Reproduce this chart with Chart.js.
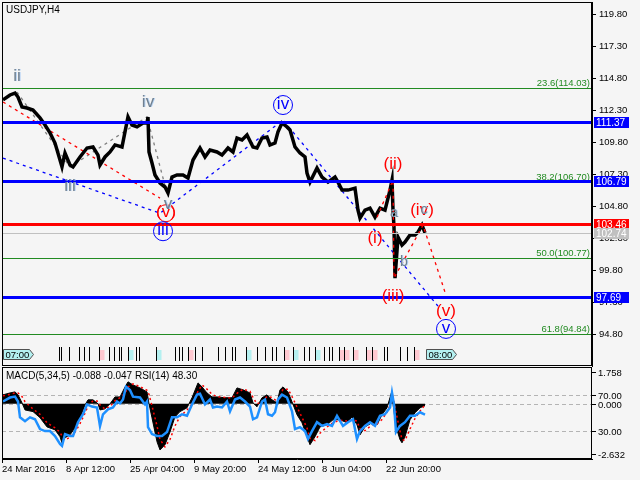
<!DOCTYPE html>
<html><head><meta charset="utf-8">
<script src="https://cdn.jsdelivr.net/npm/chart.js@4.4.0/dist/chart.umd.min.js"></script>
<style>
html,body{margin:0;padding:0;background:#F5F5F5;}
#wrap{position:relative;width:640px;height:480px;overflow:hidden;background:#F5F5F5;}
#c1{position:absolute;left:0;top:0;}
#c2{position:absolute;left:0;top:366px;}
</style></head>
<body><div id="wrap"><canvas id="c1" width="640" height="368"></canvas><canvas id="c2" width="640" height="114"></canvas></div>
<script>
const FONT = "'Liberation Sans', Arial, sans-serif";

// ---- time axis ----
const tickBars = [0, 64, 128, 192, 256, 320, 384];
const tickLabels = ['24 Mar 2016', '8 Apr 12:00', '25 Apr 04:00', '9 May 20:00', '24 May 12:00', '8 Jun 04:00', '22 Jun 20:00'];

// ---- price (H4 closes, sampled) ----
const priceBars = [1,8,13,16,20,25,31,38,43,48, 53,58,60,63,68,71,78,85,91,96, 98,103,108,113,120,123,126,130,135,141,
  145,146,147,150,153,158,163,166,170,175, 181,186,191,198,203,208,215,220,226,231, 235,240,245,251,255,260,265,268,273,276,
  280,285,288,293,298,303,305,308,315,320, 326,333,336,340,346,353,356,358,363,368, 373,378,383,388,390,391,392,393,396,400,
  403,408,413,416,420,423];
const priceValues = [113.13,113.52,113.67,113.36,112.58,112.50,112.34,111.72,111.17,110.55, 109.76,108.43,107.89,108.98,108.04,107.89,108.67,109.37,109.45,108.82,
  108.04,108.67,109.06,109.61,109.45,110.63,111.80,111.17,111.02,111.33, 111.33,111.80,109.06,108.20,107.26,106.63,106.32,105.85,107.10,107.26,
  107.26,107.02,108.43,109.37,108.67,109.21,109.06,108.82,109.37,109.06, 110.15,110.00,110.39,109.45,109.37,110.15,110.23,109.61,109.76,110.63,
  111.33,111.02,110.78,109.45,108.98,108.67,107.41,106.70,107.80,107.10, 106.70,107.10,106.70,106.08,106.08,106.23,104.51,103.89,104.51,104.67,
  103.96,104.67,104.51,106.08,106.86,104.51,103.18,99.19,102.40,101.78, 102.01,102.56,102.56,102.79,103.34,102.74];

const priceTicks = [94.80, 97.30, 99.80, 102.30, 104.80, 107.30, 109.80, 112.30, 114.80, 117.30, 119.80];
const priceMin = 92.32, priceMax = 120.79;

// ---- levels ----
const fibPct = ['23.6', '38.2', '50.0', '61.8'];
const fibLevels = [114.03, 106.70, 100.77, 94.84];
const blueLevels = [111.37, 106.79, 97.69];
const redLevel = 103.46;
const lastPrice = 102.74;

// ---- wave lines (bar, price) ----
const bigRedBars = [1, 158];          const bigRedPrices = [112.97, 105.45];
const grayWaveBars = [15, 68, 145, 166]; const grayWavePrices = [113.75, 107.89, 111.80, 105.54];
const blueWaveBars = [1, 158, 281, 436]; const blueWavePrices = [108.58, 104.27, 111.55, 97.00];
const minorRedBars = [375, 391, 392, 421, 443]; const minorRedPrices = [103.96, 106.86, 99.19, 103.34, 98.10];

// ---- wave labels ----
const waveLabels = [
  {t:'ii', bar:15, p:115.00, c:'g'}, {t:'iii', bar:68, p:106.39, c:'g'}, {t:'iv', bar:146, p:112.97, c:'g'},
  {t:'(v)', bar:164, p:104.35, c:'r', circle:true}, {t:'v', bar:166, p:104.95, c:'g'},
  {t:'iii', bar:161, p:102.94, c:'b', circle:true}, {t:'iv', bar:281, p:112.81, c:'b', circle:true}, {t:'v', bar:444, p:95.30, c:'b', circle:true},
  {t:'(i)', bar:373, p:102.33, c:'r'}, {t:'(ii)', bar:391, p:108.10, c:'r'}, {t:'(iii)', bar:391, p:97.79, c:'r'},
  {t:'(iv)', bar:420, p:104.53, c:'r'}, {t:'(v)', bar:444, p:96.60, c:'r'},
  {t:'a', bar:392, p:104.27, c:'g', small:true}, {t:'b', bar:402, p:100.43, c:'g', small:true}, {t:'c', bar:422, p:104.53, c:'g', small:true}
];

// ---- event markers row ----
const eventBars = [57,59,67,77,82,87,97,107,112,117,119,126,134,137,154,173,177,180,186,193,200,216,223,230,233,244,255,263,270,274,282,291,302,307,313,322,327,330,337,342,351,364,370,382,385,398,405,412];
const eventKinds = [0,0,0,0,0,0,1,0,0,0,0,2,0,0,2,0,0,0,1,0,0,0,0,0,0,2,0,0,0,0,1,2,0,0,2,0,0,0,1,1,1,1,1,0,0,0,0,1];
const timeMarkBars = [1, 424];
const timeMarkTexts = ['07:00', '08:00'];

// ---- MACD(5,34,5) & RSI(14) ----
const macdBars = [1,8,13,16,20,23,31,38,45,53, 58,60,63,68,73,78,83,86,91,96, 98,103,108,113,118,123,126,131,138,145,
  147,150,155,158,163,168,173,178,185,190, 196,200,205,210,215,223,230,235,241,248, 251,255,260,265,270,275,278,281,286,290,
  295,300,305,308,313,318,325,331,338,345, 350,355,358,363,370,375,380,385,390,391, 394,398,400,403,408,413,418,423];
const macdValues = [0.43,0.52,0.57,0.43,0.05,-0.29,-0.37,-0.66,-1.10,-1.24, -1.57,-1.86,-1.62,-1.48,-1.14,-0.67,-0.05,0.19,0.19,0.0,
  -0.29,-0.24,0.0,0.33,0.33,0.80,1.05,0.90,0.76,0.57, 0.0,-0.67,-1.81,-2.20,-1.95,-1.34,-0.62,-0.37,-0.19,0.29,
  1.0,0.81,0.52,0.33,0.33,0.29,0.29,0.76,0.67,0.52, 0.05,-0.14,0.29,0.43,0.19,0.05,0.67,0.81,0.57,0.10,
  -0.52,-0.90,-1.57,-1.95,-1.57,-1.10,-1.00,-0.76,-0.76,-0.90, -0.62,-1.00,-1.48,-1.10,-0.90,-1.00,-0.52,-0.19,0.62,0.0,
  -1.10,-1.71,-1.86,-1.57,-0.76,-0.43,-0.19,-0.088];
const signalValues = [0.38,0.45,0.52,0.52,0.35,0.10,-0.25,-0.50,-0.90,-1.15, -1.35,-1.55,-1.72,-1.60,-1.35,-0.95,-0.45,-0.10,0.15,0.12,
  -0.05,-0.25,-0.12,0.15,0.30,0.50,0.80,0.95,0.82,0.65, 0.45,-0.10,-1.05,-1.70,-2.05,-1.70,-1.05,-0.60,-0.30,0.0,
  0.60,0.90,0.70,0.45,0.35,0.30,0.28,0.50,0.70,0.60, 0.30,0.0,0.10,0.35,0.30,0.12,0.35,0.70,0.70,0.35,
  -0.15,-0.65,-1.15,-1.65,-1.75,-1.40,-1.10,-0.90,-0.78,-0.82, -0.75,-0.82,-1.20,-1.28,-1.00,-0.95,-0.75,-0.40,0.15,0.30,
  -0.40,-1.30,-1.70,-1.75,-1.20,-0.70,-0.35,-0.047];
const macdMax = 1.758, macdMin = -2.632;

const rsiBars = [1,8,13,16,18,23,28,33,38,43, 48,53,58,60,63,68,71,76,81,85, 90,95,98,101,106,111,115,118,121,124,
  128,131,138,143,145,146,150,155,160,165, 170,175,180,185,190,195,198,203,208,211, 215,220,225,228,233,238,243,248,251,255,
  260,263,266,270,273,276,280,285,290,293, 298,303,306,310,315,320,325,330,335,341, 346,351,355,358,363,368,373,378,383,388,
  390,392,394,398,403,408,413,418,423];
const rsiValues = [62.5,66.8,67.8,62.5,45.3,41.1,45.3,43.2,32.5,30.3, 30.3,25,16.4,14.3,27.1,25,25,40,48.6,59.3,
  57,56,35.7,48.6,54,56,62.5,60.4,64.6,78.6, 75,67.8,66.8,59.3,62.5,34.6,27.1,25,25,29.3,
  45.3,45.3,48.6,47,59.3,70,71,59.3,64.6,56, 57,56,62.5,51.8,64.6,66.8,62.5,57,43.2,45.3,
  62.5,64.6,48.6,47,50.8,64.6,70,66.8,51.8,32.5, 34.6,30.3,21.8,30.3,40,36,38,36,47,36,
  40,43.2,21.8,30.3,36,40,36,47,48.6,56, 72,59.3,29.3,36,40,47,47,50.8,48.3];
const rsiLevels = [70, 30];
const subTitle = 'MACD(5,34,5) -0.088 -0.047 RSI(14) 48.30';

const toXY = (bars, vals) => bars.map((b, i) => ({x: b, y: vals[i]}));
const COL = {g: '#708090', r: '#FF0000', b: '#0000FF'};

// ---------------- main chart ----------------
const mainDeco = {
  id: 'mainDeco',
  afterDatasetsDraw(chart) {
    const {ctx, chartArea: a, scales: {x, y}} = chart;
    ctx.save();
    const hline = (v, color, w) => {
      let py = Math.round(y.getPixelForValue(v));
      if (w % 2 === 1) py += 0.5;
      ctx.strokeStyle = color; ctx.lineWidth = w; ctx.setLineDash([]);
      ctx.beginPath(); ctx.moveTo(a.left, py); ctx.lineTo(a.right, py); ctx.stroke();
      return py;
    };
    // fibonacci levels
    ctx.font = '9.5px ' + FONT;
    fibLevels.forEach((v, i) => {
      const py = hline(v, '#228B22', 1);
      ctx.fillStyle = '#228B22'; ctx.textAlign = 'right'; ctx.textBaseline = 'alphabetic';
      ctx.fillText(fibPct[i] + '(' + v.toFixed(2) + ')', a.right - 2, py - 3);
    });
    hline(lastPrice, '#C0C0C0', 1);
    blueLevels.forEach(v => hline(v, '#0000FF', 3));
    hline(redLevel, '#FF0000', 3);

    // event markers row
    const ey0 = a.bottom - 19, ey1 = a.bottom - 5;
    eventBars.forEach((b, i) => {
      const px = Math.round(x.getPixelForValue(b)) + 0.5;
      const k = eventKinds[i];
      if (k > 0) {
        ctx.fillStyle = k === 1 ? '#FFC8D0' : '#B4F0F0';
        ctx.fillRect(px, ey0 + 3, 5, ey1 - ey0 - 4);
      }
      ctx.strokeStyle = '#000'; ctx.lineWidth = 1;
      ctx.beginPath(); ctx.moveTo(px, ey0); ctx.lineTo(px, ey1); ctx.stroke();
    });
    timeMarkBars.forEach((b, i) => {
      const px = Math.round(x.getPixelForValue(b)) + 0.5;
      const yt = a.bottom - 16.5, yb = a.bottom - 6.5, ym = (yt + yb) / 2;
      ctx.beginPath(); ctx.moveTo(px, yt); ctx.lineTo(px + 26, yt); ctx.lineTo(px + 30, ym); ctx.lineTo(px + 26, yb); ctx.lineTo(px, yb); ctx.closePath();
      ctx.fillStyle = '#B4F0F0'; ctx.fill(); ctx.strokeStyle = '#505050'; ctx.lineWidth = 1; ctx.stroke();
      ctx.fillStyle = '#000'; ctx.font = '9.5px ' + FONT; ctx.textAlign = 'left'; ctx.textBaseline = 'middle';
      ctx.fillText(timeMarkTexts[i], px + 2, ym + 0.5);
    });

    // wave labels
    waveLabels.forEach(l => {
      const px = x.getPixelForValue(l.bar), py = y.getPixelForValue(l.p);
      ctx.font = (l.small ? '14px ' : '17px ') + FONT;
      ctx.textAlign = 'center'; ctx.textBaseline = 'middle';
      if (l.c === 'g') { ctx.fillStyle = '#B8D4F4'; ctx.fillText(l.t, px + 1, py); }
      ctx.fillStyle = COL[l.c];
      ctx.fillText(l.t, px, py);
      if (l.circle) {
        ctx.strokeStyle = COL[l.c]; ctx.lineWidth = 1;
        ctx.beginPath(); ctx.arc(px, py + 1, l.c === 'r' ? 8.5 : 9.5, 0, Math.PI * 2); ctx.stroke();
      }
    });

    // title
    ctx.fillStyle = '#000'; ctx.font = '10px ' + FONT; ctx.textAlign = 'left'; ctx.textBaseline = 'middle';
    ctx.fillText('USDJPY,H4', 6, 10);

    // border
    ctx.strokeStyle = '#000'; ctx.lineWidth = 1; ctx.setLineDash([]);
    ctx.strokeRect(a.left + 0.5, a.top + 0.5, a.width - 1, a.height - 1);

    // price boxes on axis
    const box = (v, bg, fg) => {
      const py = Math.round(y.getPixelForValue(v));
      ctx.fillStyle = bg; ctx.fillRect(a.right + 2, py - 5, 35, 11);
      ctx.fillStyle = fg; ctx.font = '10px ' + FONT; ctx.textAlign = 'left'; ctx.textBaseline = 'middle';
      ctx.fillText(v.toFixed(2), a.right + 4, py + 1);
    };
    blueLevels.forEach(v => box(v, '#0000FF', '#FFFFFF'));
    box(redLevel, '#FF0000', '#FFFFFF');
    box(lastPrice, '#C0C0C0', '#FFFFFF');
    ctx.restore();
  }
};

new Chart(document.getElementById('c1'), {
  type: 'line',
  data: {datasets: [
    {data: toXY(priceBars, priceValues), borderColor: '#000', borderWidth: 3.5, pointRadius: 0, tension: 0, order: 1},
    {data: toXY(bigRedBars, bigRedPrices), borderColor: '#FF0000', borderWidth: 1.3, borderDash: [3, 4], pointRadius: 0, order: 2},
    {data: toXY(grayWaveBars, grayWavePrices), borderColor: '#808080', borderWidth: 1.3, borderDash: [3, 4], pointRadius: 0, order: 2},
    {data: toXY(blueWaveBars, blueWavePrices), borderColor: '#0000FF', borderWidth: 1.3, borderDash: [3, 4], pointRadius: 0, order: 2},
    {data: toXY(minorRedBars, minorRedPrices), borderColor: '#FF0000', borderWidth: 1.3, borderDash: [3, 4], pointRadius: 0, order: 0}
  ]},
  options: {
    responsive: false, animation: false, devicePixelRatio: 1,
    layout: {padding: {left: 2, top: 2, right: 0, bottom: 2}},
    plugins: {legend: {display: false}, tooltip: {enabled: false}},
    scales: {
      x: {type: 'linear', min: 0, max: 590, display: false},
      y: {
        position: 'right', min: priceMin, max: priceMax,
        afterBuildTicks: s => { s.ticks = priceTicks.map(v => ({value: v})); },
        afterFit: s => { s.width = 48; s.paddingTop = 0; s.paddingBottom = 0; },
        grid: {drawOnChartArea: false, drawTicks: true, tickLength: 4, color: '#000'},
        border: {display: true, color: '#000'},
        ticks: {color: '#000', padding: 3, font: {family: FONT, size: 9.5}, callback: v => Number(v).toFixed(2)}
      }
    }
  },
  plugins: [mainDeco]
});

// ---------------- sub chart ----------------
const subDeco = {
  id: 'subDeco',
  beforeDatasetsDraw(chart) {
    const {ctx, chartArea: a, scales} = chart;
    ctx.save();
    ctx.strokeStyle = '#B4B4B4'; ctx.lineWidth = 1; ctx.setLineDash([4, 3]);
    const dl = py => { py = Math.round(py) + 0.5; ctx.beginPath(); ctx.moveTo(a.left, py); ctx.lineTo(a.right, py); ctx.stroke(); };
    rsiLevels.forEach(v => dl(scales.yr.getPixelForValue(v)));
    dl(scales.y.getPixelForValue(0));
    ctx.restore();
  },
  afterDraw(chart) {
    const {ctx, chartArea: a, scales} = chart;
    ctx.save();
    ctx.strokeStyle = '#000'; ctx.lineWidth = 1; ctx.setLineDash([]);
    ctx.strokeRect(a.left + 0.5, a.top + 0.5, a.width - 1, a.height - 1);
    const items = [
      [scales.y.getPixelForValue(macdMax), macdMax.toFixed(3)],
      [scales.yr.getPixelForValue(rsiLevels[0]), rsiLevels[0].toFixed(2)],
      [scales.y.getPixelForValue(0), (0).toFixed(3)],
      [scales.yr.getPixelForValue(rsiLevels[1]), rsiLevels[1].toFixed(2)],
      [scales.y.getPixelForValue(macdMin), macdMin.toFixed(3)]
    ];
    ctx.font = '9.5px ' + FONT; ctx.fillStyle = '#000'; ctx.textAlign = 'left'; ctx.textBaseline = 'middle';
    items.forEach(([py, txt]) => {
      py = Math.min(Math.max(py, a.top + 5), a.bottom - 5);
      const ty = Math.round(py) + 0.5;
      ctx.beginPath(); ctx.moveTo(a.right, ty); ctx.lineTo(a.right + 4, ty); ctx.stroke();
      ctx.fillText(txt, a.right + 6, ty + 0.5);
    });
    ctx.font = '10px ' + FONT;
    ctx.fillText(subTitle, 6, 10);
    ctx.restore();
  }
};

new Chart(document.getElementById('c2'), {
  type: 'line',
  data: {datasets: [
    {data: toXY(rsiBars, rsiValues), yAxisID: 'yr', borderColor: '#1E90FF', borderWidth: 2.5, pointRadius: 0, tension: 0, order: 1},
    {data: toXY(macdBars, signalValues), yAxisID: 'y', borderColor: '#FF0000', borderWidth: 1.5, borderDash: [2, 3], pointRadius: 0, tension: 0, order: 2},
    {data: toXY(macdBars, macdValues), yAxisID: 'y', borderColor: '#000', backgroundColor: '#000', borderWidth: 1, fill: 'origin', pointRadius: 0, tension: 0, order: 3}
  ]},
  options: {
    responsive: false, animation: false, devicePixelRatio: 1,
    layout: {padding: {left: 2, top: 1, right: 48, bottom: 0}},
    plugins: {legend: {display: false}, tooltip: {enabled: false}},
    scales: {
      x: {
        type: 'linear', min: 0, max: 590, position: 'bottom',
        afterBuildTicks: s => { s.ticks = tickBars.map(v => ({value: v})); },
        afterFit: s => { s.height = 21; s.paddingLeft = 0; s.paddingRight = 0; },
        grid: {drawOnChartArea: false, drawTicks: true, tickLength: 4, color: '#000'},
        border: {display: true, color: '#000'},
        ticks: {color: '#000', align: 'start', padding: 1, maxRotation: 0, autoSkip: false,
          font: {family: FONT, size: 9.5}, callback: (v, i) => tickLabels[i]}
      },
      y: {display: false, min: macdMin, max: macdMax},
      yr: {display: false, min: 0, max: 100}
    }
  },
  plugins: [subDeco]
});
</script>
</body></html>
